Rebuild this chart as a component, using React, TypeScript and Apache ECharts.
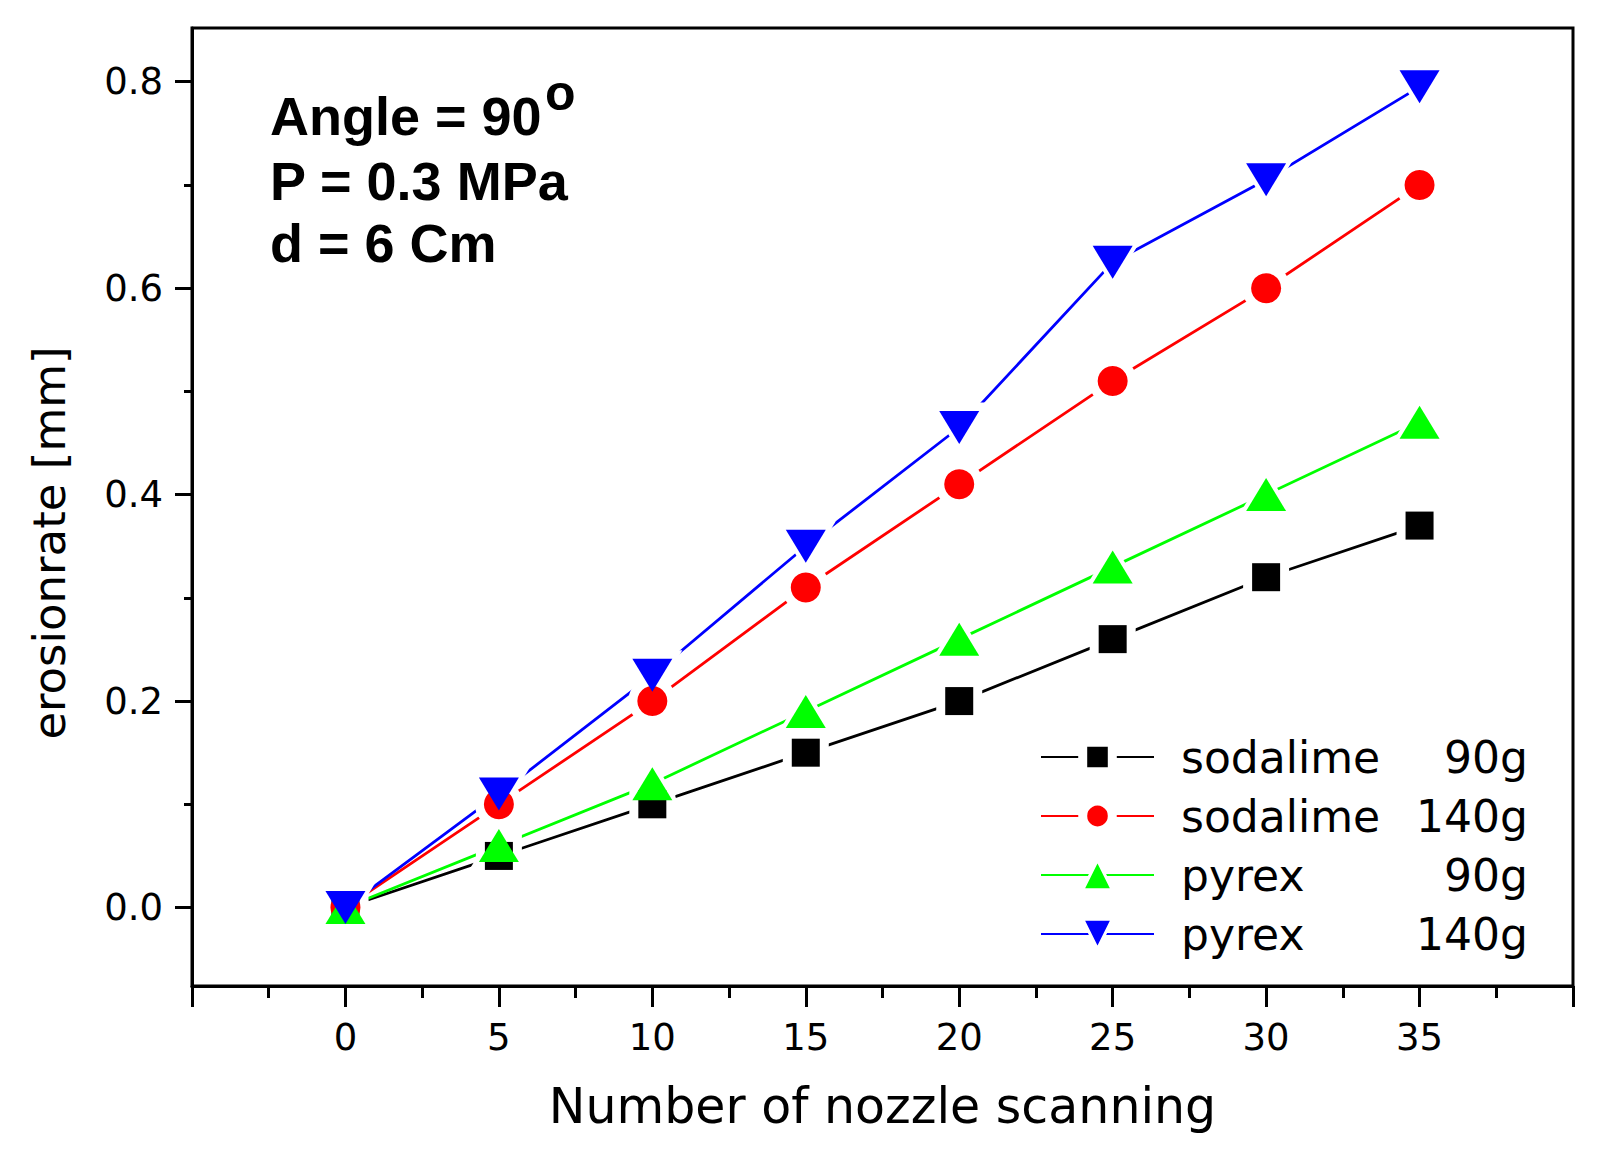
import React, { useEffect, useRef } from 'react';
import * as echarts from 'echarts';

const xValues = [0, 5, 10, 15, 20, 25, 30, 35];
const sodalime90 = [0, 0.05, 0.1, 0.15, 0.2, 0.26, 0.32, 0.37];
const sodalime140 = [0, 0.1, 0.2, 0.31, 0.41, 0.51, 0.6, 0.7];
const pyrex90 = [0, 0.06, 0.12, 0.19, 0.26, 0.33, 0.4, 0.47];
const pyrex140 = [0, 0.11, 0.225, 0.35, 0.465, 0.625, 0.705, 0.795];

const seriesNames = ['sodalime 90g', 'sodalime 140g', 'pyrex 90g', 'pyrex 140g'];
const legendMaterial = ['sodalime', 'sodalime', 'pyrex', 'pyrex'];
const legendMass = ['90g', '140g', '90g', '140g'];
const seriesColors = ['#000000', '#ff0000', '#00ff00', '#0000ff'];

const yTickValues = [0, 0.2, 0.4, 0.6, 0.8];
const yMinorTickValues = [0.1, 0.3, 0.5, 0.7];

const xTitle = 'Number of nozzle scanning';
const yTitle = 'erosionrate [mm]';
const noteLines = ['Angle = 90', 'P = 0.3 MPa', 'd = 6 Cm'];
const noteSup = 'o';

const REG = '"DejaVu Sans", sans-serif';
const BOLD = '"Liberation Sans", Arial, sans-serif';

export default function App() {
  const ref = useRef<HTMLDivElement>(null);

  useEffect(() => {
    if (!ref.current) return;
    const chart = echarts.init(ref.current, null, { renderer: 'svg' });
    const allData = [sodalime90, sodalime140, pyrex90, pyrex140];
    const symbols = ['rect', 'circle', 'triangle', 'path://M0,0 L2,0 L1,1.65 Z'];
    const sizes: any[] = [28, 30, [40, 33], [40, 33]];
    const haloSizes: any[] = [46, 48, [60, 50], [60, 50]];
    const legendBorder = [9, 9, 3, 3];

    const lineSeries = allData.map((vals, i) => ({
      type: 'line',
      name: seriesNames[i],
      data: xValues.map((x, j) => [x, vals[j]]),
      symbol: symbols[i],
      symbolSize: sizes[i],
      showSymbol: false,
      lineStyle: { color: seriesColors[i], width: 2.8 },
      itemStyle: { color: seriesColors[i] },
      z: 2,
      silent: true,
    }));

    const haloSeries = allData.map((vals, i) => ({
      type: 'scatter',
      name: 'halo' + i,
      data: xValues.map((x, j) => [x, vals[j]]),
      symbol: symbols[i],
      symbolSize: haloSizes[i],
      itemStyle: { color: '#ffffff', opacity: 1 },
      z: 3,
      silent: true,
    }));

    const markerSeries = allData.map((vals, i) => ({
      type: 'scatter',
      name: 'marker' + i,
      data: xValues.map((x, j) => [x, vals[j]]),
      symbol: symbols[i],
      symbolSize: sizes[i],
      itemStyle: { color: seriesColors[i], opacity: 1 },
      z: 4 + i,
      silent: true,
    }));

    const option: any = {
      animation: false,
      backgroundColor: '#ffffff',
      grid: {
        left: 192,
        top: 28,
        right: 29,
        bottom: 177,
        show: true,
        borderColor: '#000',
        borderWidth: 3,
        backgroundColor: 'transparent',
        outerBoundsMode: 'none',
        containLabel: false,
      },
      xAxis: {
        type: 'value',
        min: -5,
        max: 40,
        interval: 5,
        axisLine: { show: true, onZero: false, lineStyle: { color: '#000', width: 3 } },
        axisTick: { show: true, length: 21, lineStyle: { color: '#000', width: 3 } },
        minorTick: { show: true, splitNumber: 2, length: 12, lineStyle: { color: '#000', width: 3 } },
        axisLabel: {
          formatter: (v: number) => (v < 0 || v > 35 ? '' : String(v)),
          margin: 33,
          fontFamily: REG,
          fontSize: 37,
          color: '#000',
        },
        splitLine: { show: false },
        minorSplitLine: { show: false },
        name: xTitle,
        nameLocation: 'middle',
        nameGap: 96,
        nameTextStyle: { fontFamily: REG, fontSize: 49, color: '#000' },
      },
      yAxis: [
        {
          type: 'value',
          min: -0.076,
          max: 0.852,
          position: 'left',
          axisLine: { show: true, onZero: false, lineStyle: { color: '#000', width: 3 } },
          axisTick: { show: true, length: 17, customValues: yTickValues, lineStyle: { color: '#000', width: 3 } },
          axisLabel: {
            customValues: yTickValues,
            formatter: (v: number) => v.toFixed(1),
            margin: 29,
            fontFamily: REG,
            fontSize: 37,
            color: '#000',
          },
          splitLine: { show: false },
        },
        {
          type: 'value',
          min: -0.076,
          max: 0.852,
          position: 'left',
          offset: 0,
          axisLine: { show: false, onZero: false },
          axisTick: { show: true, length: 8, customValues: yMinorTickValues, lineStyle: { color: '#000', width: 3 } },
          axisLabel: { show: false },
          splitLine: { show: false },
        },
      ],
      legend: {
        orient: 'vertical',
        left: 1040,
        top: 735,
        padding: 0,
        itemGap: 15,
        itemWidth: 113,
        itemHeight: 37,
        selectedMode: false,
        data: seriesNames.map((n, i) => ({
          name: n,
          itemStyle: { borderColor: '#ffffff', borderWidth: legendBorder[i] },
        })),
        formatter: (name: string) => {
          const i = seriesNames.indexOf(name);
          return `{s| }{a|${legendMaterial[i]}}{b|${legendMass[i]}}`;
        },
        textStyle: {
          fontFamily: REG,
          fontSize: 44,
          color: '#000',
          rich: {
            s: { width: 22, fontFamily: REG, fontSize: 44, lineHeight: 40 },
            a: { width: 235, fontFamily: REG, fontSize: 44, color: '#000', lineHeight: 40 },
            b: { width: 112, align: 'right', fontFamily: REG, fontSize: 44, color: '#000', lineHeight: 40 },
          },
        },
      },
      graphic: [
        {
          type: 'text',
          x: 49,
          y: 543,
          rotation: Math.PI / 2,
          style: {
            text: yTitle,
            font: `45px ${REG}`,
            fill: '#000',
            textAlign: 'center',
            textVerticalAlign: 'middle',
          },
        },
        ...noteLines.map((t, i) => ({
          type: 'text',
          x: 270,
          y: [116, 180.5, 242.5][i],
          style: {
            text: t,
            font: `bold 54px ${BOLD}`,
            fill: '#000',
            textAlign: 'left',
            textVerticalAlign: 'middle',
          },
        })),
        {
          type: 'text',
          x: 545,
          y: 93,
          style: {
            text: noteSup,
            font: `bold 50px ${BOLD}`,
            fill: '#000',
            textAlign: 'left',
            textVerticalAlign: 'middle',
          },
        },
      ],
      series: [...lineSeries, ...haloSeries, ...markerSeries],
    };

    chart.setOption(option);
    return () => chart.dispose();
  }, []);

  return (
    <div
      ref={ref}
      style={{ position: 'fixed', left: 0, top: 0, width: 1602, height: 1163, background: '#fff' }}
    />
  );
}
